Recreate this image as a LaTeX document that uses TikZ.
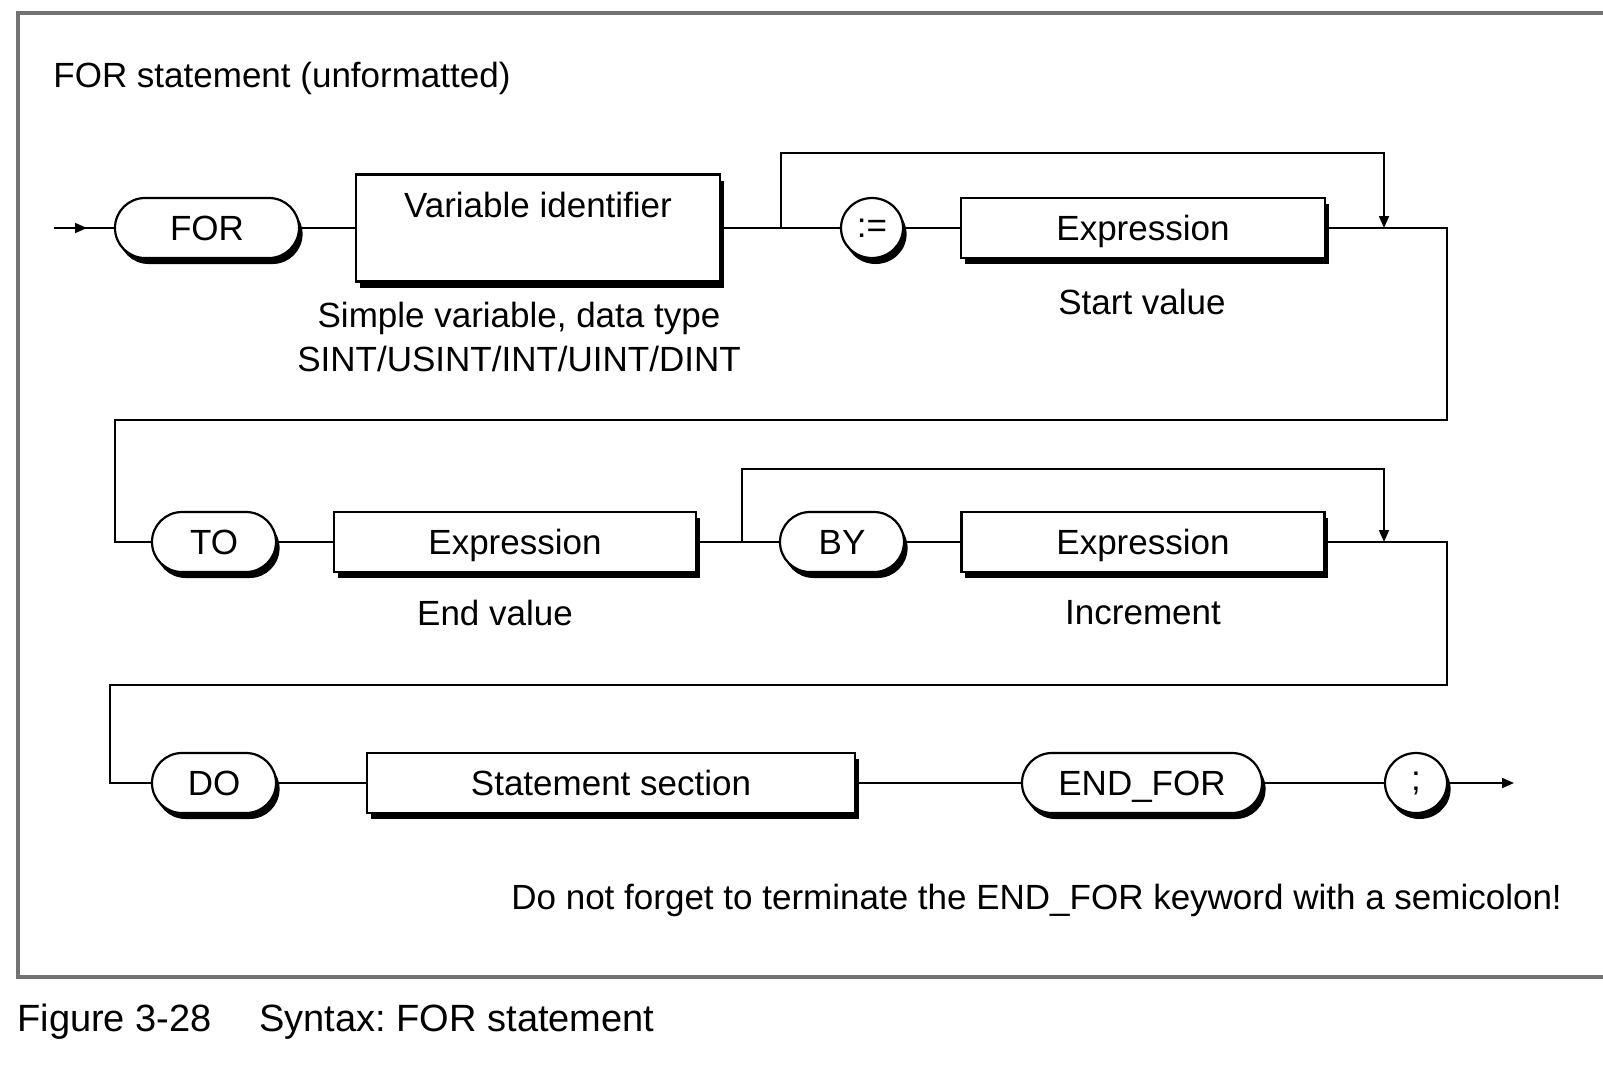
\documentclass[tikz,border=0pt]{standalone}
\usepackage{fontspec}
\setmainfont{Liberation Sans}
\usetikzlibrary{shapes.misc,shapes.geometric,shadows,arrows.meta}

\tikzset{
  txt/.style={font=\fontsize{17.5pt}{21pt}\selectfont\frenchspacing, inner sep=0pt, text=black},
  captxt/.style={font=\fontsize{19pt}{23pt}\selectfont\frenchspacing, inner sep=0pt, text=black},
  shad/.style={drop shadow={shadow xshift=1.8pt, shadow yshift=-3pt, fill=black, opacity=1}},
  capcenter/.style={text height=12.5pt, text depth=0pt},
  kw/.style={txt, capcenter, rounded rectangle, draw=black, line width=1.1pt, fill=white, shad,
             minimum height=30pt},
  ring/.style={txt, ellipse, draw=black, line width=1.1pt, fill=white, shad,
               minimum width=31pt, minimum height=30pt},
  ntbox/.style={txt, capcenter, rectangle, draw=black, line width=1.1pt, fill=white, shad,
                minimum height=30pt},
  conn/.style={draw=black, line width=0.9pt},
  tip/.style={-{Triangle[length=6pt,width=5pt]}},
  frame/.style={draw=black!55, line width=1.6pt}
}

\begin{document}
\begin{tikzpicture}[x=0.5pt,y=-0.5pt]
\useasboundingbox (0,0) rectangle (1603,1084);
\fill[white] (0,0) rectangle (1603,1084);

% outer frame (open to the right)
\draw[frame] (1603,13) -- (18,13) -- (18,977) -- (1603,977);

% title and caption
\node[txt, anchor=west] (title) at (53,78) {FOR statement (unformatted)};
\node[captxt, anchor=west] (fignum) at (17,1022) {Figure 3-28};
\node[captxt, anchor=west] (figcap) at (259,1022) {Syntax: FOR statement};

% ---- row 1 ----
\node[kw, minimum width=92pt] (for) at (207,228) {FOR};
\node[ntbox, minimum width=182pt, minimum height=53.5pt,
      label={[txt, anchor=north, yshift=-9pt]north:Variable identifier}] (var) at (538,228) {};
\node[ring] (assign) at (872,228) {:=};
\node[ntbox, minimum width=182pt] (expr1) at (1143,228) {Expression};
\node[txt] (vnote1) at (519,318) {Simple variable, data type};
\node[txt] (vnote2) at (519,359) {SINT/USINT/INT/UINT/DINT};
\node[txt] (start) at (1142,302) {Start value};

% ---- row 2 ----
\node[kw, minimum width=62pt] (to) at (214,542) {TO};
\node[ntbox, minimum width=181pt] (expr2) at (515,542) {Expression};
\node[kw, minimum width=62pt] (by) at (842,542) {BY};
\node[ntbox, minimum width=181.5pt] (expr3) at (1143,542) {Expression};
\node[txt] (endv) at (495,613) {End value};
\node[txt] (incr) at (1143,613) {Increment};

% ---- row 3 ----
\node[kw, minimum width=62pt] (do) at (214,783) {DO};
\node[ntbox, minimum width=244pt] (stmt) at (611,783) {Statement section};
\node[kw, minimum width=120pt] (endfor) at (1142,783) {END\_FOR};
\node[ring] (semi) at (1416,783) {;};
\node[txt, anchor=west] (hint) at (511,900) {Do not forget to terminate the END\_FOR keyword with a semicolon!};

% connector points
\coordinate (in) at (54,228);
\coordinate (inTip) at (87,228);
\coordinate (b1) at (781,228);
\coordinate (j1) at (1384,228);
\coordinate (r1) at (1447,228);
\coordinate (b2) at (742,542);
\coordinate (j2) at (1384,542);
\coordinate (r2) at (1447,542);
\coordinate (out) at (1514,783);

% row 1 connectors
\draw[conn] (in) -- (for.west);
\draw[conn, tip] (in) -- (inTip);
\draw[conn] (for.east) -- (var.west);
\draw[conn] (var.east) -- (assign.west);
\draw[conn] (assign.east) -- (expr1.west);
\draw[conn, tip] (b1) -- (781,153) -- (1384,153) -- (j1);
\draw[conn] (expr1.east) -- (r1) -- (1447,420) -- (115,420) -- (115,542) -- (to.west);

% row 2 connectors
\draw[conn] (to.east) -- (expr2.west);
\draw[conn] (expr2.east) -- (by.west);
\draw[conn] (by.east) -- (expr3.west);
\draw[conn, tip] (b2) -- (742,469) -- (1384,469) -- (j2);
\draw[conn] (expr3.east) -- (r2) -- (1447,685) -- (110,685) -- (110,783) -- (do.west);

% row 3 connectors
\draw[conn] (do.east) -- (stmt.west);
\draw[conn] (stmt.east) -- (endfor.west);
\draw[conn] (endfor.east) -- (semi.west);
\draw[conn, tip] (semi.east) -- (out);
\end{tikzpicture}
\end{document}
